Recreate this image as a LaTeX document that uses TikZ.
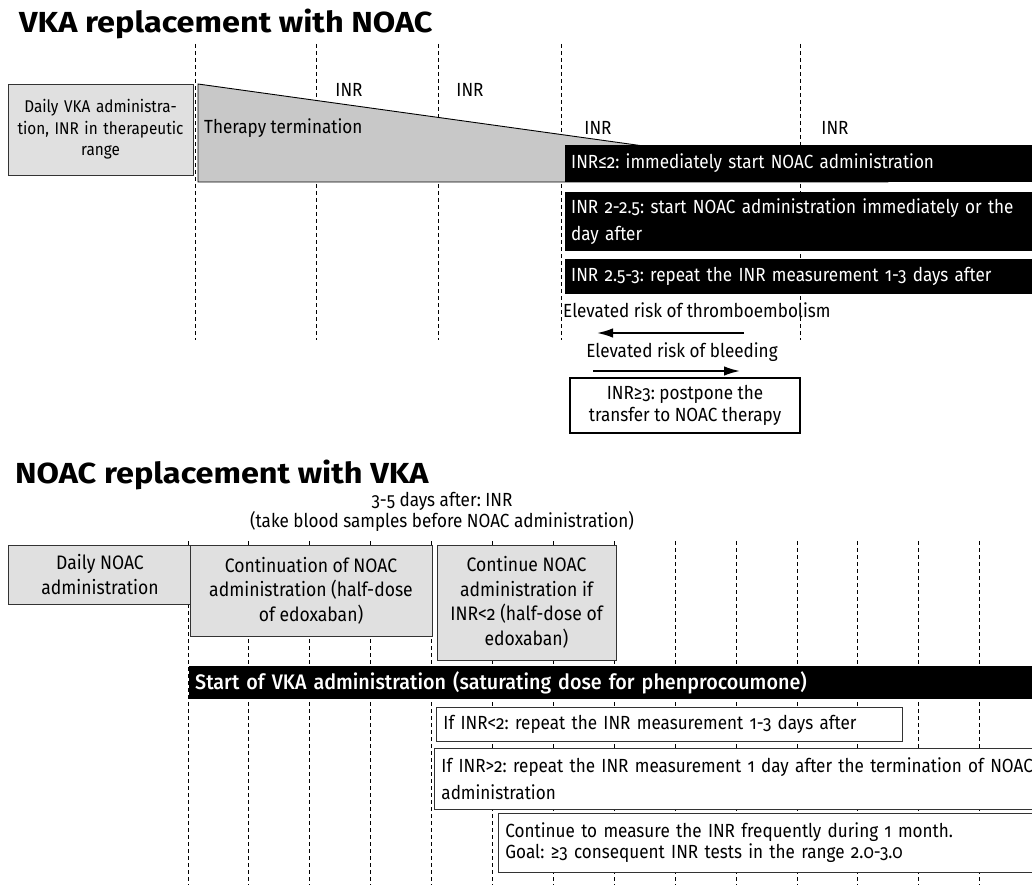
\documentclass[tikz,border=0pt]{standalone}
\usepackage{fontspec}
\setmainfont{Fira Sans}[Numbers=OldStyle, FakeStretch=0.90]
\newfontfamily\headfont{Fira Sans}[Numbers=OldStyle, FakeStretch=1.12]
\newfontfamily\medfont{Fira Sans Medium}[Numbers=OldStyle, FakeStretch=0.94]
\usetikzlibrary{arrows.meta}
\definecolor{boxgray}{RGB}{224,224,224}
\definecolor{trapgray}{RGB}{200,200,200}
\frenchspacing

\begin{document}
\begin{tikzpicture}[x=1pt,y=-1pt,>={Latex[length=16pt,width=9.5pt]},
    txt/.style={font=\fontsize{19}{22}\selectfont, inner sep=0pt},
    heading/.style={font=\headfont\bfseries\fontsize{29}{32}\selectfont, inner sep=0pt, anchor=base west},
    gridline/.style={line width=0.9pt, dash pattern=on 4pt off 3pt},
    graybox/.style={txt, draw=black!80, line width=0.9pt, fill=boxgray, align=center},
    blackbox/.style={txt, fill=black, text=white, inner xsep=6pt, align=left, anchor=west},
    whitebox/.style={txt, draw=black!80, line width=0.9pt, fill=white, inner xsep=7pt, align=left, anchor=west},
    riskarrow/.style={->, line width=1.8pt}]
    \useasboundingbox (0,0) rectangle (1032,885);

    % VKA -> NOAC
    \node[heading] (ttop) at (19,33) {VKA replacement with NOAC};
    \foreach \x in {195,316,438,561,800}
        \draw[gridline] (\x,44) -- (\x,340);

    \node[graybox, font=\fontsize{17}{21.5}\selectfont, minimum width=185, minimum height=91, text width=178] (vka) at (100.5,129.5)
        {Daily VKA administra-\\tion, INR in therapeutic\\range};
    \draw[line width=0.9pt, fill=trapgray] (198,84) -- (888,180) -- (888,182) -- (198,182) -- cycle;
    \node[txt, anchor=west] (term) at (204,128) {Therapy termination};

    % INR checks
    \node[txt] (inr1) at (349,90) {INR};
    \node[txt] (inr2) at (470,90) {INR};
    \node[txt] (inr3) at (598,128) {INR};
    \node[txt] (inr4) at (835,128) {INR};

    % Decisions
    \node[blackbox, minimum width=470, minimum height=37, text width=458] (low) at (565,163.5)
        {INR≤2: immediately start NOAC administration};
    \node[blackbox, font=\fontsize{19}{27}\selectfont, minimum width=470, minimum height=59, text width=458] (mid) at (565,221.5)
        {INR 2-2.5: start NOAC administration immediately or the\\day after};
    \node[blackbox, minimum width=470, minimum height=35, text width=458] (high) at (565,276.5)
        {INR 2.5-3: repeat the INR measurement 1-3 days after};

    % Risks
    \node[txt, anchor=west] (thromb) at (563,310) {Elevated risk of thromboembolism};
    \coordinate (tA) at (744,333);
    \coordinate (tB) at (597,333);
    \draw[riskarrow] (tA) -- (tB);
    \node[txt] (bleed) at (682,352) {Elevated risk of bleeding};
    \coordinate (bA) at (593,371);
    \coordinate (bB) at (740,371);
    \draw[riskarrow] (bA) -- (bB);
    \node[txt, draw, line width=1.8pt, fill=white, align=center, minimum width=230, minimum height=55] (post) at (685,405.5)
        {INR≥3: postpone the\\transfer to NOAC therapy};

    % NOAC -> VKA
    \node[heading] (tbot) at (15,483) {NOAC replacement with VKA};
    \node[txt, font=\fontsize{19}{20}\selectfont, align=center] (samp) at (442,512)
        {3-5 days after: INR\\(take blood samples before NOAC administration)};
    \foreach \k in {0,...,13}
        \draw[gridline] ({188+60.9*\k},541) -- ({188+60.9*\k},885);

    \node[graybox, font=\fontsize{19.5}{24.5}\selectfont, minimum width=184, minimum height=59] (noac) at (100,574.5)
        {Daily NOAC\\administration};
    \node[graybox, font=\fontsize{19.5}{24.5}\selectfont, minimum width=242, minimum height=91] (half) at (311,590.5)
        {Continuation of NOAC\\administration (half-dose\\of edoxaban)};
    \node[graybox, font=\fontsize{19.5}{24.5}\selectfont, minimum width=179, minimum height=115] (cont) at (526.5,602.5)
        {Continue NOAC\\administration if\\INR<2 (half-dose of\\edoxaban)};

    \node[blackbox, font=\medfont\fontsize{21}{24}\selectfont, minimum width=850, minimum height=33, text width=838] (start) at (189,682.5)
        {Start of VKA administration (saturating dose for phenprocoumone)};
    \node[whitebox, minimum width=466, minimum height=34, text width=452] (less) at (436,724)
        {If INR<2: repeat the INR measurement 1-3 days after};
    \node[whitebox, font=\fontsize{19}{27}\selectfont, minimum width=606, minimum height=61, text width=592] (more) at (434,778.5)
        {If INR>2: repeat the INR measurement 1 day after the termination of NOAC\\administration};
    \node[whitebox, font=\fontsize{19}{21}\selectfont, minimum width=542, minimum height=59, text width=528] (goal) at (498,842.5)
        {Continue to measure the INR frequently during 1 month.\\Goal: ≥3 consequent INR tests in the range 2.0-3.0};
\end{tikzpicture}
\end{document}
